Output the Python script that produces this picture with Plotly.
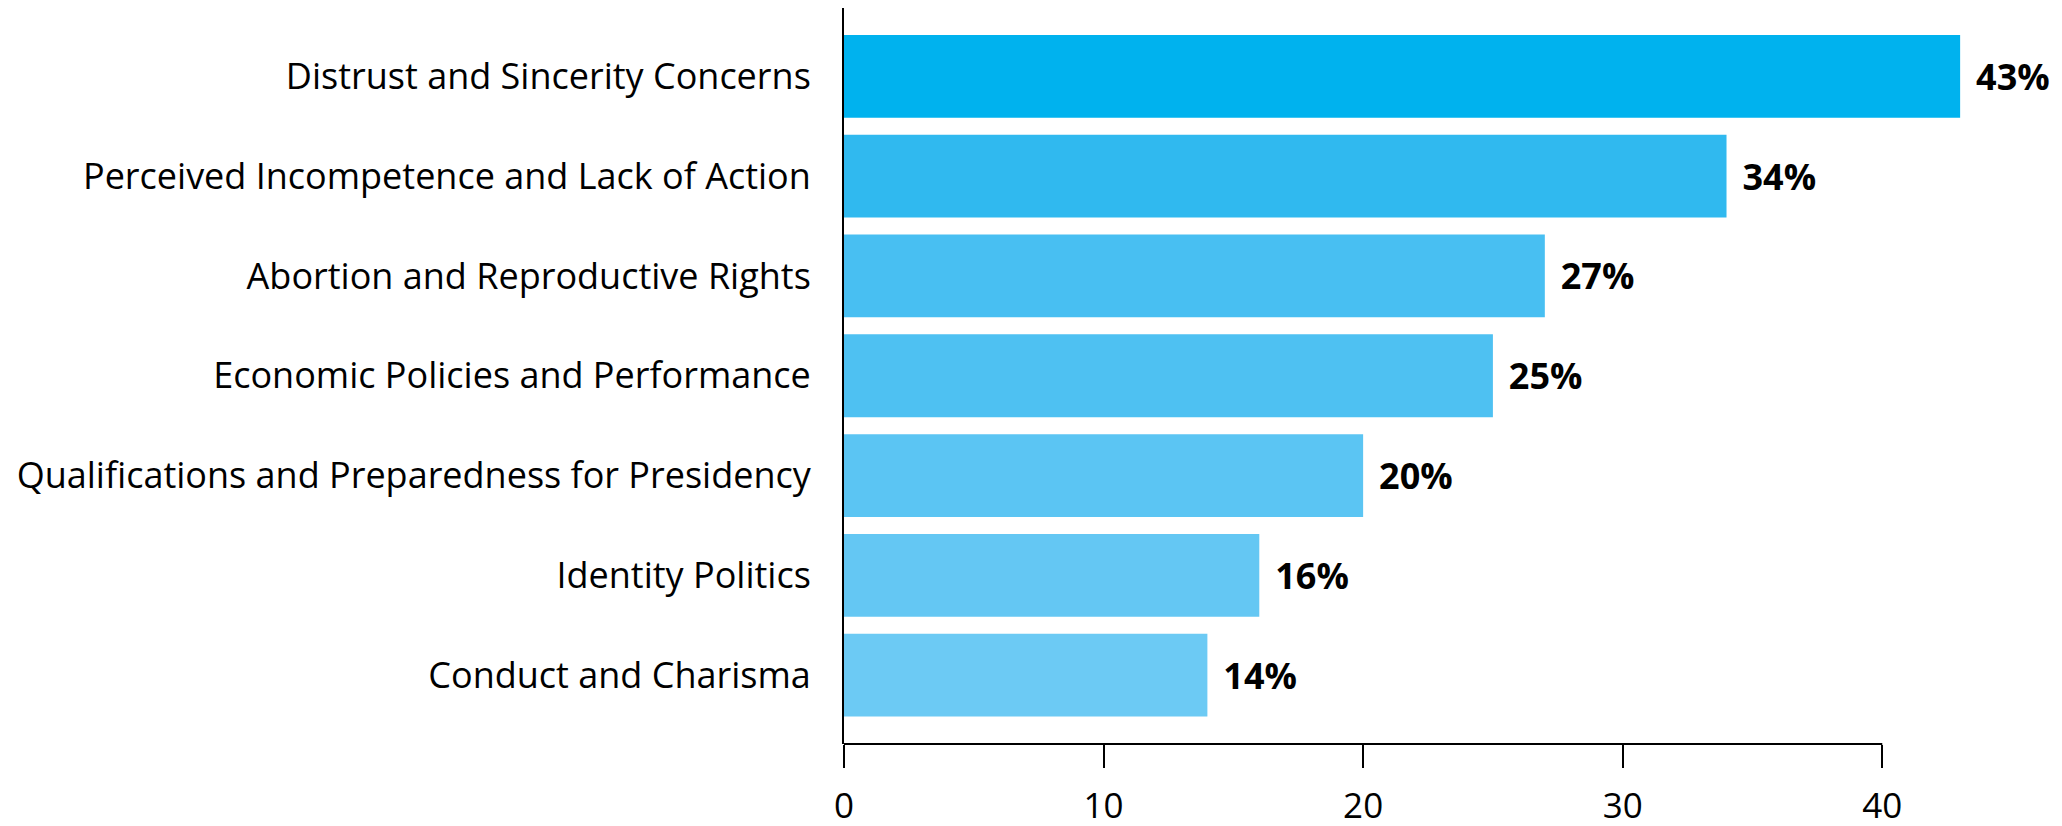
import plotly.graph_objects as go

categories = [
    "Distrust and Sincerity Concerns",
    "Perceived Incompetence and Lack of Action",
    "Abortion and Reproductive Rights",
    "Economic Policies and Performance",
    "Qualifications and Preparedness for Presidency",
    "Identity Politics",
    "Conduct and Charisma",
]
values = [43, 34, 27, 25, 20, 16, 14]
bar_colors = ["#00B2EE", "#30B9EF", "#48BFF2", "#4EC1F2", "#5BC5F3", "#64C7F3", "#6CCAF4"]
x_ticks = [0, 10, 20, 30, 40]

fig = go.Figure()
fig.add_trace(go.Bar(
    y=categories,
    x=values,
    orientation="h",
    marker=dict(color=bar_colors, line=dict(width=0)),
    text=["\u00a0\u200a" + f"{v}%" for v in values],
    textposition="outside",
    cliponaxis=False,
    textfont=dict(family="Open Sans", size=36, color="#000000", weight="bold"),
    hoverinfo="skip",
))

fig.add_shape(type="line", xref="x", yref="paper",
              x0=x_ticks[0], x1=x_ticks[-1], y0=0, y1=0,
              line=dict(color="#000000", width=2))

fig.update_layout(
    width=2062, height=826,
    margin=dict(l=836, r=32, t=0, b=90, autoexpand=False),
    plot_bgcolor="white", paper_bgcolor="white",
    bargap=0.17,
    showlegend=False,
    font=dict(family="Open Sans", size=36, color="#000000"),
    xaxis=dict(
        range=[0, 46], tickvals=x_ticks, showgrid=False, zeroline=False,
        showline=False, ticks="outside", ticklen=23, tickwidth=2, tickcolor="#000000",
        tickfont=dict(size=35), automargin=False, ticklabelstandoff=8,
    ),
    yaxis=dict(
        categoryorder="array", categoryarray=categories,
        range=[6.69, -0.685], showgrid=False, zeroline=False,
        showline=True, linecolor="#000000", linewidth=2, ticks="",
        ticklabelstandoff=24, tickfont=dict(size=36), automargin=False,
    ),
)

fig.write_html("out.html")
